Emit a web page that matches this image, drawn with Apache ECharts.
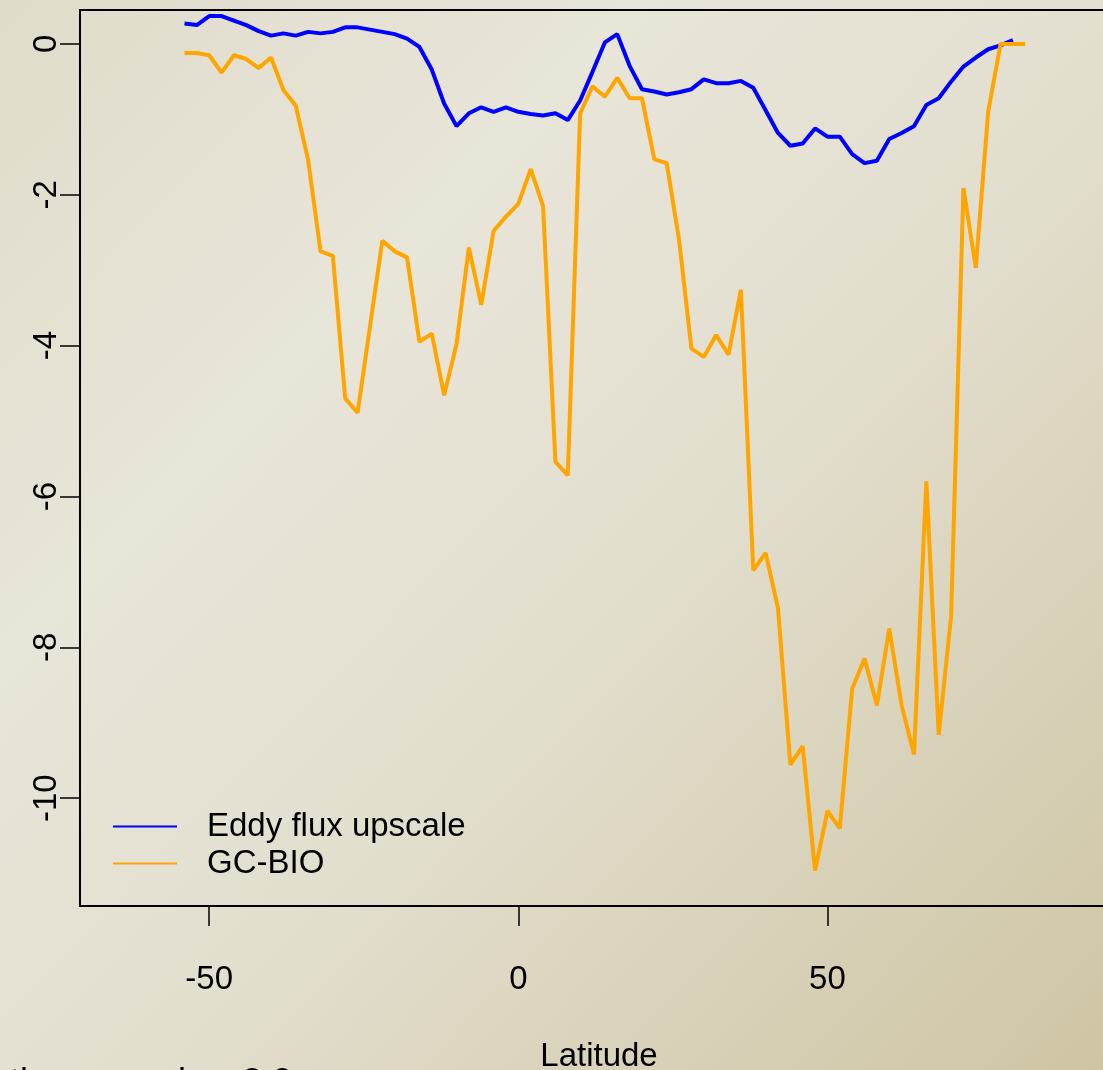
<!DOCTYPE html>
<html>
<head>
<meta charset="utf-8">
<script src="https://cdn.jsdelivr.net/npm/echarts@6/dist/echarts.min.js"></script>
<style>
html,body{margin:0;padding:0;}
#chart{width:1103px;height:1070px;}
</style>
</head>
<body>
<div id="chart"></div>
<script>
// Latitude bins (degrees)
const latEddy = [-54,-52,-50,-48,-46,-44,-42,-40,-38,-36,-34,-32,-30,-28,-26,-24,-22,-20,-18,-16,-14,-12,-10,-8,-6,-4,-2,0,2,4,6,8,10,12,14,16,18,20,22,24,26,28,30,32,34,36,38,40,42,44,46,48,50,52,54,56,58,60,62,64,66,68,70,72,74,76,78,80];
const eddyFlux = [0.27,0.25,0.37,0.37,0.31,0.25,0.17,0.11,0.14,0.11,0.16,0.14,0.16,0.22,0.22,0.19,0.16,0.13,0.07,-0.04,-0.34,-0.79,-1.09,-0.92,-0.84,-0.90,-0.84,-0.90,-0.93,-0.95,-0.92,-1.01,-0.75,-0.37,0.02,0.13,-0.29,-0.60,-0.63,-0.67,-0.64,-0.60,-0.47,-0.52,-0.52,-0.49,-0.58,-0.88,-1.18,-1.35,-1.32,-1.12,-1.23,-1.23,-1.46,-1.58,-1.55,-1.26,-1.18,-1.09,-0.81,-0.72,-0.50,-0.30,-0.18,-0.07,-0.02,0.05];

const latGC = [-54,-52,-50,-48,-46,-44,-42,-40,-38,-36,-34,-32,-30,-28,-26,-24,-22,-20,-18,-16,-14,-12,-10,-8,-6,-4,-2,0,2,4,6,8,10,12,14,16,18,20,22,24,26,28,30,32,34,36,38,40,42,44,46,48,50,52,54,56,58,60,62,64,66,68,70,72,74,76,78,80,82];
const gcBio = [-0.12,-0.12,-0.15,-0.38,-0.15,-0.20,-0.32,-0.18,-0.61,-0.82,-1.54,-2.75,-2.81,-4.70,-4.89,-3.75,-2.61,-2.75,-2.83,-3.95,-3.84,-4.66,-3.98,-2.70,-3.46,-2.48,-2.29,-2.12,-1.66,-2.15,-5.54,-5.72,-0.92,-0.56,-0.70,-0.45,-0.72,-0.72,-1.53,-1.58,-2.60,-4.04,-4.15,-3.86,-4.12,-3.26,-6.98,-6.75,-7.48,-9.56,-9.31,-10.96,-10.17,-10.40,-8.55,-8.15,-8.77,-7.75,-8.77,-9.42,-5.80,-9.16,-7.59,-1.91,-2.97,-0.90,0.00,0.00,0.00];

const xTicks = [-50, 0, 50];
const yTicks = [0, -2, -4, -6, -8, -10];
const seriesNames = ['Eddy flux upscale', 'GC-BIO'];
const xTitle = 'Latitude';
const footText = 'tion mean low 2.0';

const pair = (xs, ys) => xs.map((x, i) => [x, ys[i]]);
const FONT = '"Liberation Sans", Arial, sans-serif';

const chart = echarts.init(document.getElementById('chart'));
chart.setOption({
  animation: false,
  backgroundColor: new echarts.graphic.LinearGradient(0, 0, 1, 1, [
    {offset: 0, color: '#e0dccb'},
    {offset: 0.3, color: '#e8e5d9'},
    {offset: 0.55, color: '#e3dfcf'},
    {offset: 1, color: '#cfc5a4'}
  ]),
  textStyle: {fontFamily: FONT},
  grid: {
    left: 80, top: 10, width: 1038, height: 896,
    outerBoundsMode: 'none', containLabel: false,
    show: true, borderColor: '#000', borderWidth: 2,
    backgroundColor: 'transparent'
  },
  legend: {
    orient: 'vertical',
    left: 113, top: 810, padding: 0,
    itemWidth: 64, itemHeight: 2, itemGap: 4,
    icon: 'rect',
    textStyle: {fontSize: 33, color: '#000', fontFamily: FONT, padding: [0, 0, 0, 25]},
    data: seriesNames
  },
  xAxis: {
    type: 'value', min: -70.9, max: 97,
    splitLine: {show: false},
    axisLine: {show: false, onZero: false},
    axisTick: {show: true, length: 20, customValues: xTicks, lineStyle: {color: '#000', width: 1.5}},
    axisLabel: {customValues: xTicks, fontSize: 33, color: '#000', margin: 57, fontFamily: FONT},
    name: xTitle, nameLocation: 'middle', nameGap: 134,
    nameTextStyle: {fontSize: 33, color: '#000', fontFamily: FONT}
  },
  yAxis: {
    type: 'value', min: -11.43, max: 0.45,
    splitLine: {show: false},
    axisLine: {show: false, onZero: false},
    axisTick: {show: true, length: 20, customValues: yTicks, lineStyle: {color: '#000', width: 1.5}},
    axisLabel: {customValues: yTicks, fontSize: 33, color: '#000', margin: 17, rotate: 90, fontFamily: FONT}
  },
  graphic: [{
    type: 'text', left: 10, top: 1066,
    style: {text: footText, fontSize: 36, fill: '#000', fontFamily: FONT}
  }],
  series: [
    {name: seriesNames[0], type: 'line', data: pair(latEddy, eddyFlux), showSymbol: false,
     lineStyle: {color: '#0000ff', width: 4}, itemStyle: {color: '#0000ff'}},
    {name: seriesNames[1], type: 'line', data: pair(latGC, gcBio), showSymbol: false,
     lineStyle: {color: '#ffa500', width: 4}, itemStyle: {color: '#ffa500'}}
  ]
});
</script>
</body>
</html>
